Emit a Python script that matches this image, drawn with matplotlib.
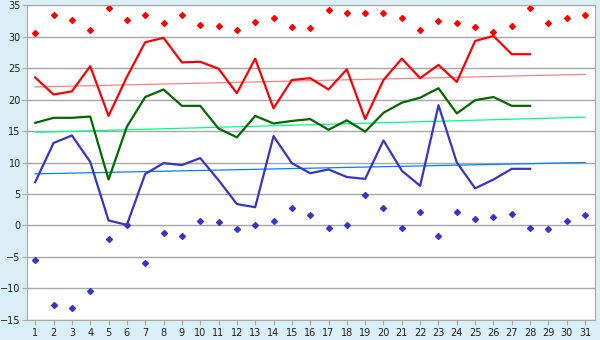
import matplotlib.pyplot as plt

# daily temperatures, days 1..28 observed, records for 1..31
days = list(range(1, 29))
all_days = list(range(1, 32))

t_max = [23.5, 20.8, 21.3, 25.3, 17.4, 23.6, 29.1, 29.8, 25.9, 26.0,
         24.9, 21.0, 26.5, 18.6, 23.1, 23.4, 21.6, 24.8, 16.9, 23.1,
         26.5, 23.4, 25.5, 22.8, 29.3, 30.1, 27.2, 27.2]
t_mean = [16.3, 17.1, 17.1, 17.3, 7.3, 15.7, 20.4, 21.6, 19.0, 19.0,
          15.4, 14.0, 17.4, 16.2, 16.6, 16.9, 15.2, 16.7, 14.9, 17.9,
          19.5, 20.3, 21.8, 17.8, 19.9, 20.4, 19.0, 19.0]
t_min = [6.9, 13.1, 14.3, 10.1, 0.8, 0.1, 8.2, 9.9, 9.6, 10.7,
         7.2, 3.4, 2.9, 14.2, 9.9, 8.3, 8.9, 7.7, 7.4, 13.5,
         8.7, 6.3, 19.1, 10.0, 5.9, 7.3, 9.0, 9.0]

rec_max = [30.5, 33.4, 32.6, 31.0, 34.5, 32.7, 33.5, 32.1, 33.4, 31.9,
           31.7, 31.1, 32.3, 33.0, 31.5, 31.3, 34.2, 33.7, 33.7, 33.8,
           32.9, 31.1, 32.4, 32.1, 31.5, 30.8, 31.7, 34.5, 32.1, 32.9, 33.5]
rec_min = [-5.5, -12.7, -13.1, -10.4, -2.2, 0.0, -6.0, -1.2, -1.6, 0.7,
           0.5, -0.6, 0.0, 0.7, 2.7, 1.6, -0.4, 0.0, 4.8, 2.7,
           -0.4, 2.1, -1.7, 2.1, 1.0, 1.3, 1.8, -0.4, -0.6, 0.7, 1.6]

# normal (trend) lines, first and last day
trend_days = [1, 31]
trend_max = [22.0, 24.0]
trend_mean = [14.8, 17.2]
trend_min = [8.2, 10.0]

fig = plt.figure(figsize=(6, 3.4), dpi=100)
fig.patch.set_facecolor("#daeef5")
ax = fig.add_axes([0.045, 0.059, 0.947, 0.926])
ax.set_facecolor("white")

ax.plot(trend_days, trend_max, color="#ff8080", lw=0.9)
ax.plot(trend_days, trend_mean, color="#00ff80", lw=0.9)
ax.plot(trend_days, trend_min, color="#0080ff", lw=0.9)

ax.plot(days, t_max, color="#ff0000", lw=1.6)
ax.plot(days, t_mean, color="#006a00", lw=1.6)
ax.plot(days, t_min, color="#3535c8", lw=1.6)

ax.plot(all_days, rec_max, "D", color="#ff0000", ms=3.0, ls="none")
ax.plot(all_days, rec_min, "D", color="#3535c8", ms=3.0, ls="none")

ax.set_xlim(0.55, 31.55)
ax.set_ylim(-15, 35)
ax.set_xticks(all_days)
ax.set_yticks(range(-15, 36, 5))
ax.yaxis.grid(True, color="#a8a8a8", lw=1)
ax.set_axisbelow(True)
for s in ax.spines.values():
    s.set_color("#a8a8a8")
ax.tick_params(colors="#a8a8a8", labelcolor="#222222", labelsize=7, length=3.5)
ax.tick_params(axis="y", pad=1)
ax.tick_params(axis="x", pad=2)

fig.savefig("out.png", dpi=100, facecolor=fig.get_facecolor())
